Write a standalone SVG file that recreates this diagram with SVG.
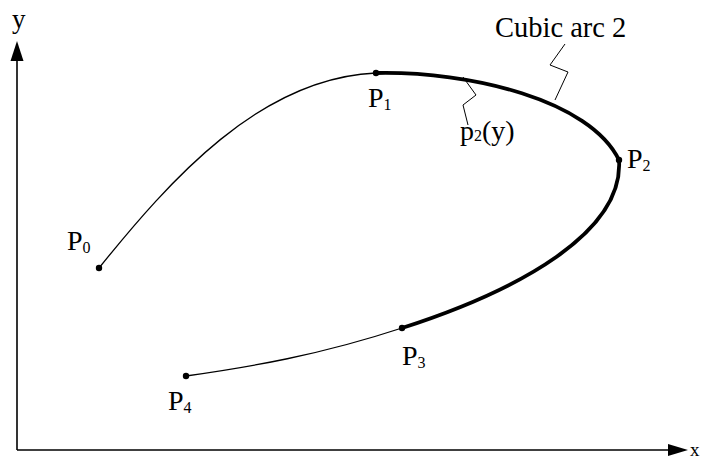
<svg xmlns="http://www.w3.org/2000/svg" width="703" height="459" viewBox="0 0 703 459">
<defs>
<style>
.t{font-family:"Liberation Serif","Times New Roman",serif;fill:#000}
.lab{font-size:28px}
.sub{font-size:16px}
.thin{fill:none;stroke:#000;stroke-width:1.3}
.thick{fill:none;stroke:#000;stroke-width:3.8;stroke-linecap:round}
.lead{fill:none;stroke:#000;stroke-width:1}
.ax{fill:none;stroke:#000;stroke-width:1.6}
</style>
</defs>
<rect width="703" height="459" fill="#fff"/>
<g id="axes">
<line class="ax" x1="17" y1="450" x2="17" y2="58"/>
<polygon points="17,41 10.5,61 23.5,61" fill="#000"/>
<line class="ax" x1="17" y1="450" x2="672" y2="450"/>
<polygon points="688,450 668,444 668,456" fill="#000"/>
<text class="t" x="12" y="28" font-size="27">y</text>
<text class="t" x="690" y="456" font-size="19">x</text>
</g>
<g id="connectors">
<path id="arc1" class="thin" d="M99,268 C170,180 260,78 376,73"/>
<path id="arc2" class="thick" d="M376,73 C470,71 590,100 619,160"/>
<path id="arc3" class="thick" d="M619,160 C624,232 520,290 402,328"/>
<path id="arc4" class="thin" d="M402,328 C320,355 250,367 186,376"/>
<polyline class="lead" points="565,44 550,65 568,72 555,100"/>
<polyline class="lead" points="463,77 476,95 463,105 468,125"/>
</g>
<g id="P0"><circle cx="99" cy="268" r="3.2"/><text class="t lab" x="67" y="250">P<tspan class="sub" dy="3">0</tspan></text></g>
<g id="P1"><circle cx="376" cy="73" r="3.2"/><text class="t lab" x="368" y="107">P<tspan class="sub" dy="3">1</tspan></text></g>
<g id="P2"><circle cx="619" cy="160" r="3.2"/><text class="t lab" x="627" y="168">P<tspan class="sub" dy="3">2</tspan></text></g>
<g id="P3"><circle cx="402" cy="328" r="3.2"/><text class="t lab" x="402" y="365">P<tspan class="sub" dy="3">3</tspan></text></g>
<g id="P4"><circle cx="186" cy="376" r="3.2"/><text class="t lab" x="168" y="410">P<tspan class="sub" dy="3">4</tspan></text></g>
<g id="label-arc"><text class="t" x="495" y="37" font-size="28.5">Cubic arc 2</text></g>
<g id="label-p2"><text class="t lab" x="460" y="140">p<tspan class="sub" dy="1">2</tspan><tspan dy="-1">(y)</tspan></text></g>
</svg>
